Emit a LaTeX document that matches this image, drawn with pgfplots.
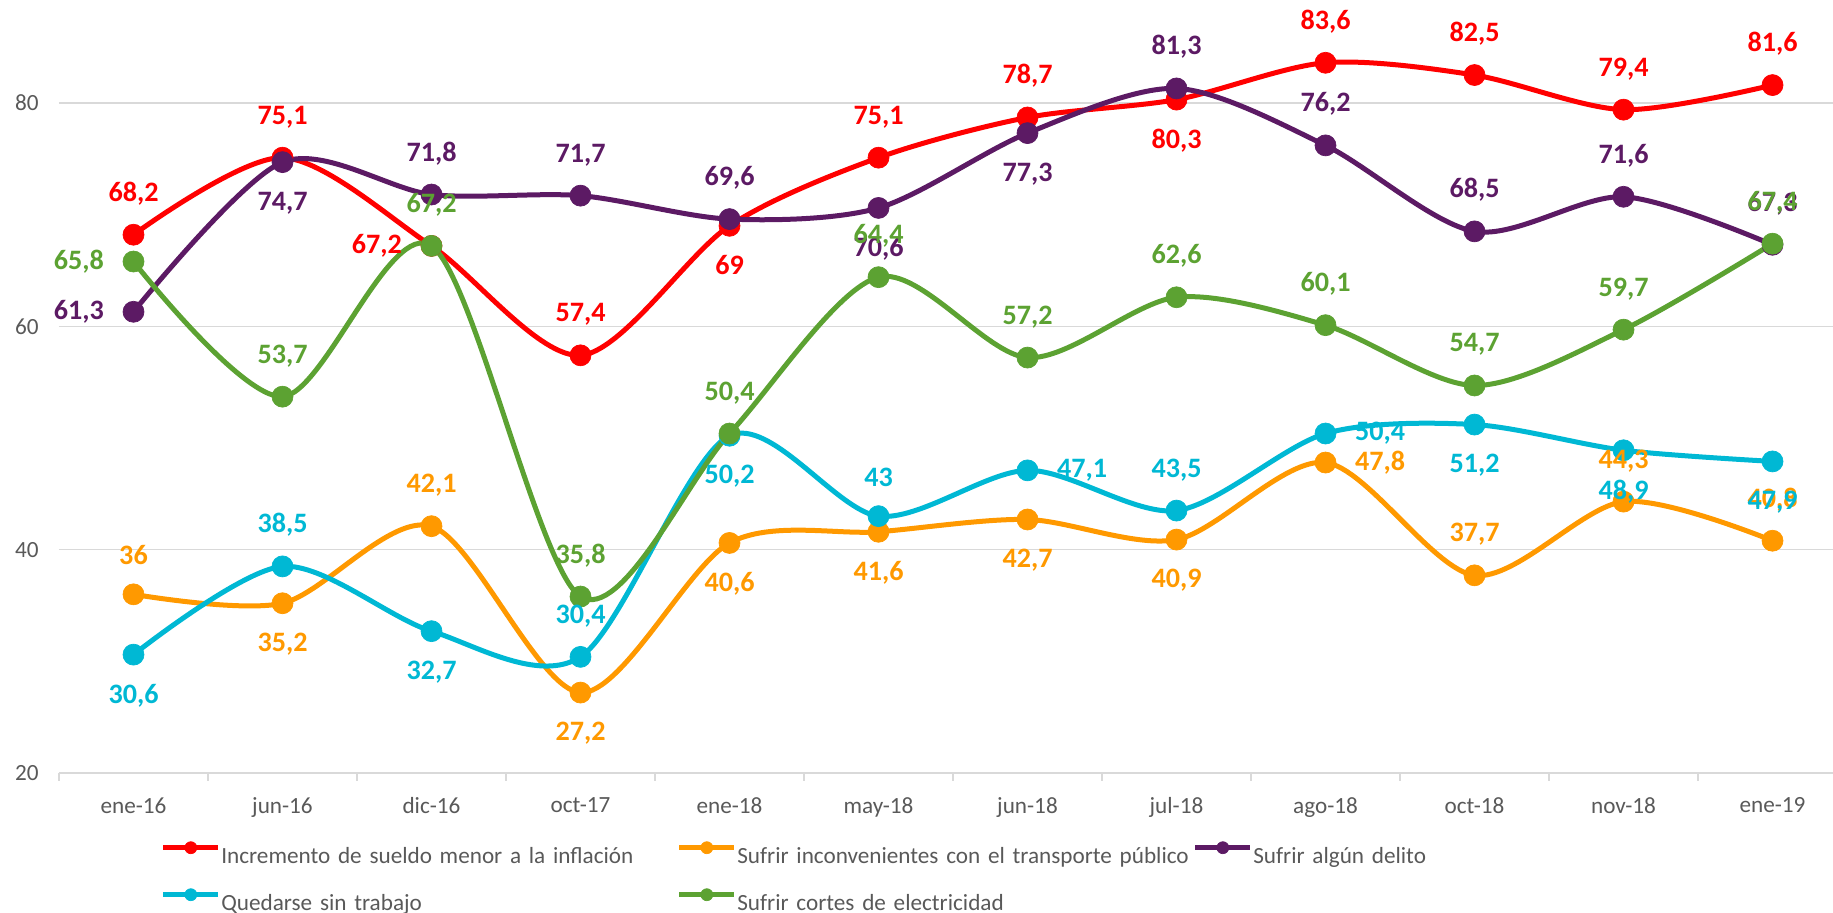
\documentclass[border=0pt]{standalone}
\usepackage{fontspec}
\setmainfont{Carlito}
\usepackage{pgfplots}
\usepackage{pgfplotstable}
\pgfplotsset{compat=1.18}

\definecolor{cRed}{RGB}{255,0,0}
\definecolor{cOrange}{RGB}{255,153,0}
\definecolor{cPurple}{RGB}{92,26,100}
\definecolor{cCyan}{RGB}{0,184,212}
\definecolor{cGreen}{RGB}{92,162,50}
\definecolor{gridgray}{RGB}{217,217,217}
\definecolor{tickgray}{RGB}{89,89,89}

% x = category index, a = anchor of the data label
\pgfplotstableread{
x y a
0 68.2 south
1 75.1 south
2 67.2 east
3 57.4 south
4 69 north
5 75.1 south
6 78.7 south
7 80.3 north
8 83.6 south
9 82.5 south
10 79.4 south
11 81.6 south
}\tblRed
\pgfplotstableread{
x y a
0 36 south
1 35.2 north
2 42.1 south
3 27.2 north
4 40.6 north
5 41.6 north
6 42.7 north
7 40.9 north
8 47.8 west
9 37.7 south
10 44.3 south
11 40.8 south
}\tblOrange
\pgfplotstableread{
x y a
0 61.3 east
1 74.7 north
2 71.8 south
3 71.7 south
4 69.6 south
5 70.6 north
6 77.3 north
7 81.3 south
8 76.2 south
9 68.5 south
10 71.6 south
11 67.3 south
}\tblPurple
\pgfplotstableread{
x y a
0 30.6 north
1 38.5 south
2 32.7 north
3 30.4 south
4 50.2 north
5 43 south
6 47.1 west
7 43.5 south
8 50.4 west
9 51.2 north
10 48.9 north
11 47.9 north
}\tblCyan
\pgfplotstableread{
x y a
0 65.8 east
1 53.7 south
2 67.2 south
3 35.8 south
4 50.4 south
5 64.4 south
6 57.2 south
7 62.6 south
8 60.1 south
9 54.7 south
10 59.7 south
11 67.4 south
}\tblGreen

\pgfplotsset{
  serie/.style={smooth, color=#1, line width=0.05cm, mark=*,
    mark size=0.105cm, mark options={solid, fill=#1, line width=0.2pt}},
  etiq/.style={draw=none, mark=none, forget plot,
    point meta=explicit symbolic,
    visualization depends on={y\as\rawy},
    nodes near coords={\pgfmathprintnumber{\rawy}},
    every node near coord/.append style={anchor=\pgfplotspointmeta, text=#1,
      font=\fontsize{8}{9.6}\selectfont\bfseries, inner sep=0.29cm}},
}

\begin{document}
\begin{tikzpicture}
\begin{axis}[
  scale only axis,
  width=17.74cm, height=7.73cm,
  xmin=-0.5, xmax=11.406, ymin=20, ymax=89.22,
  clip=false,
  axis x line*=bottom, axis y line*=left,
  y axis line style={draw=none},
  x axis line style={draw=gridgray, line width=0.015cm},
  xtick={0,...,11},
  xticklabels={ene-16,jun-16,dic-16,oct-17,ene-18,may-18,jun-18,jul-18,ago-18,oct-18,nov-18,ene-19},
  minor xtick={-0.5,0.5,...,10.5},
  ytick={20,40,60,80},
  ymajorgrids, grid style={gridgray, line width=0.015cm},
  tick style={gridgray, line width=0.012cm},
  major tick length=0pt, minor tick length=0.08cm, tick align=outside,
  ticklabel style={font=\fontsize{6.6}{8}\selectfont, text=tickgray},
  xticklabel style={yshift=-0.12cm},
  yticklabel style={xshift=-0.08cm},
  /pgf/number format/use comma,
  /pgf/number format/assume math mode=true,
  legend columns=3,
  legend style={at={(0.057,-0.088)}, anchor=north west, draw=none, fill=none,
    inner sep=0pt, column sep=0pt, row sep=0.2cm,
    font=\fontsize{6.6}{8}\selectfont, text=tickgray,
    nodes={text width=4.55cm, align=left, inner sep=0.005cm, text height=0.2cm, text depth=0.05cm}},
  legend cell align=left,
  legend image code/.code={%
    \draw[#1, mark repeat=2, mark phase=2, mark size=0.06cm, line width=0.05cm]
      plot coordinates {(0cm,0.08cm) (0.275cm,0.08cm) (0.55cm,0.08cm)};},
]
\addplot[serie=cRed] table[x=x,y=y] {\tblRed};
\addlegendentry{\mbox{Incremento de sueldo menor a la inflación}}
\addplot[serie=cOrange] table[x=x,y=y] {\tblOrange};
\addlegendentry{\mbox{Sufrir inconvenientes con el transporte público}}
\addplot[serie=cPurple] table[x=x,y=y] {\tblPurple};
\addlegendentry{\mbox{Sufrir algún delito}}
\addplot[serie=cCyan] table[x=x,y=y] {\tblCyan};
\addlegendentry{\mbox{Quedarse sin trabajo}}
\addplot[serie=cGreen] table[x=x,y=y] {\tblGreen};
\addlegendentry{\mbox{Sufrir cortes de electricidad}}

\addplot[etiq=cRed] table[x=x,y=y,meta=a] {\tblRed};
\addplot[etiq=cOrange] table[x=x,y=y,meta=a] {\tblOrange};
\addplot[etiq=cPurple] table[x=x,y=y,meta=a] {\tblPurple};
\addplot[etiq=cCyan] table[x=x,y=y,meta=a] {\tblCyan};
\addplot[etiq=cGreen] table[x=x,y=y,meta=a] {\tblGreen};
\end{axis}
\pgfresetboundingbox
\path[use as bounding box] (-0.59cm,-1.40cm) rectangle (17.74cm,7.73cm);
\end{tikzpicture}
\end{document}
